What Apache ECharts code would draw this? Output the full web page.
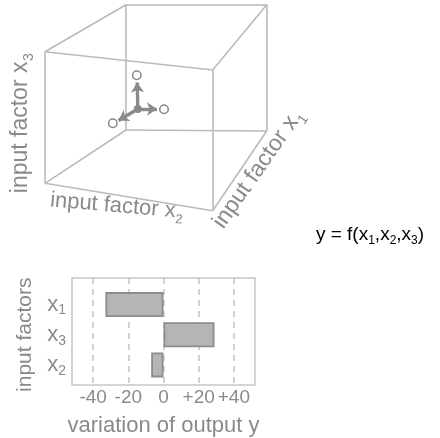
<!DOCTYPE html>
<html><head><meta charset="utf-8">
<script src="https://cdn.jsdelivr.net/npm/echarts@6/dist/echarts.min.js"></script>
<style>html,body{margin:0;padding:0;background:#fff}#c{width:440px;height:438px}</style>
</head><body><div id="c"></div>
<script>
// ---- bar chart data ----
const categories = ['x', 'x', 'x'];
const categorySubs = ['1', '3', '2'];
const variation = [-33, 29, -7];
const tickValues = [-40, -20, 0, 20, 40];
// ---- cube sketch (diagram coordinate space) ----
const cubeVertices = {
  FTL: [45, 51.7], FTR: [212.7, 70], FBL: [45, 183.3], FBR: [212.7, 210.7],
  BTL: [126, 4.7], BTR: [266.7, 4.7], BBL: [126, 130], BBR: [266.7, 131]
};
const cubeEdges = [['FTL','FTR'],['FTR','FBR'],['FBR','FBL'],['FBL','FTL'],
  ['BTL','BTR'],['BTR','BBR'],['BBR','BBL'],['BBL','BTL'],
  ['FTL','BTL'],['FTR','BTR'],['FBL','BBL'],['FBR','BBR']];
const arrowOrigin = [137.8, 109];
const arrowTips = [[137.2, 82.5], [157, 109], [118.5, 120.5]];
const arrowEnds = [[136.8, 75.3], [164, 109.2], [112.8, 123.3]];

const FONT = 'Liberation Sans, Arial, Helvetica, sans-serif';
const TXT = '#8a8a8a';
const chart = echarts.init(document.getElementById('c'), null, {renderer: 'canvas'});
const mctx = document.createElement('canvas').getContext('2d');
function textW(t, size) { mctx.font = size + 'px ' + FONT; return mctx.measureText(t).width; }

function subRich(size, subSize) {
  return {
    a: {fontSize: size, fontFamily: FONT, color: TXT, lineHeight: Math.round(size * 1.2)},
    s: {fontSize: subSize, fontFamily: FONT, color: TXT, lineHeight: subSize, verticalAlign: 'bottom'}
  };
}
// axis label of the cube: centred at (cx, cy), rotated deg (counter-clockwise)
function label(cx, cy, deg, main, sub, size) {
  const subSize = Math.round(size * 0.6);
  const w = textW(main, size), sw = textW(sub, subSize);
  const j = (w - sw) / 2;
  return {type: 'group', x: cx, y: cy, rotation: deg * Math.PI / 180, children: [
    {type: 'text', x: j, y: 0, style: {text: main, font: size + 'px ' + FONT, fill: TXT, align: 'right', verticalAlign: 'middle'}},
    {type: 'text', x: j + 0.5, y: size * 0.38, style: {text: sub, font: subSize + 'px ' + FONT, fill: TXT, align: 'left', verticalAlign: 'middle'}}
  ]};
}

const option = {
  animation: false,
  textStyle: {fontFamily: FONT},
  grid: [
    {left: 72, top: 278, width: 183, height: 107, show: true, borderColor: '#c6c6c6', borderWidth: 1.5, backgroundColor: 'transparent'},
    {left: 72, top: 289.5, width: 183, height: 90.5, show: false},
    {left: 0, top: 0, width: 440, height: 438, show: false}
  ],
  xAxis: [
    {gridIndex: 0, type: 'value', min: -52, max: 52,
      axisLine: {show: false},
      axisTick: {show: false, customValues: tickValues},
      splitLine: {show: true, lineStyle: {color: '#c4c4c4', width: 1.5, type: [6, 5]}},
      axisLabel: {customValues: tickValues, margin: 3, fontSize: 19, color: TXT, fontFamily: FONT,
        formatter: v => (v > 0 ? '+' + v : String(v))},
      name: 'variation of output y', nameLocation: 'middle', nameGap: 30,
      nameTextStyle: {fontSize: 22, color: TXT, fontFamily: FONT}
    },
    {gridIndex: 1, type: 'value', min: -52, max: 52, show: false},
    {gridIndex: 2, type: 'value', min: 0, max: 440, show: false}
  ],
  yAxis: [
    {gridIndex: 0, type: 'value', show: false},
    {gridIndex: 1, type: 'category', inverse: true,
      data: categories.map((c, i) => ({value: c + categorySubs[i]})),
      axisLine: {show: false}, axisTick: {show: false},
      axisLabel: {margin: 6, formatter: (v, i) => '{a|' + categories[i] + '}{s|' + categorySubs[i] + '}',
        rich: subRich(22, 14)},
      name: 'input factors', nameLocation: 'middle', nameRotate: 90, nameGap: 36,
      nameTextStyle: {fontSize: 21, color: TXT, fontFamily: FONT}
    },
    {gridIndex: 2, type: 'value', min: 0, max: 438, inverse: true, show: false}
  ],
  series: [
    {type: 'bar', xAxisIndex: 1, yAxisIndex: 1, data: variation, barWidth: 25,
      itemStyle: {color: '#b5b5b5', borderColor: '#8c8c8c', borderWidth: 1.8}},
    {type: 'lines', coordinateSystem: 'cartesian2d', xAxisIndex: 2, yAxisIndex: 2,
      data: cubeEdges.map(e => ({coords: [cubeVertices[e[0]], cubeVertices[e[1]]]})),
      lineStyle: {color: '#bababa', width: 1.6, opacity: 1}, silent: true},
    {type: 'lines', coordinateSystem: 'cartesian2d', xAxisIndex: 2, yAxisIndex: 2,
      data: arrowTips.map(t => ({coords: [arrowOrigin, t]})),
      symbol: ['none', 'arrow'], symbolSize: [10, 10],
      lineStyle: {color: '#8a8a8a', width: 3.4, opacity: 1}, silent: true},
    {type: 'scatter', xAxisIndex: 2, yAxisIndex: 2, data: [arrowOrigin], symbol: 'circle', symbolSize: 8,
      itemStyle: {color: '#8a8a8a', opacity: 1}, silent: true, z: 5},
    {type: 'scatter', xAxisIndex: 2, yAxisIndex: 2, data: arrowEnds, symbol: 'circle', symbolSize: 8.5,
      itemStyle: {color: '#fff', borderColor: '#8a8a8a', borderWidth: 1.6, opacity: 1}, silent: true, z: 5}
  ],
  graphic: [
    label(20.5, 123.5, 90, 'input factor x', '3', 23),
    label(116.5, 206, -5, 'input factor x', '2', 22),
    label(258, 169, 55, 'input factor x', '1', 23),
    {type: 'text', x: 370, y: 235,
      style: {text: '{a|y = f(x}{s|1}{a|,x}{s|2}{a|,x}{s|3}{a|)}', rich: subRich(19, 12), align: 'center', verticalAlign: 'middle'}}
  ]
};
chart.setOption(option);
</script></body></html>
